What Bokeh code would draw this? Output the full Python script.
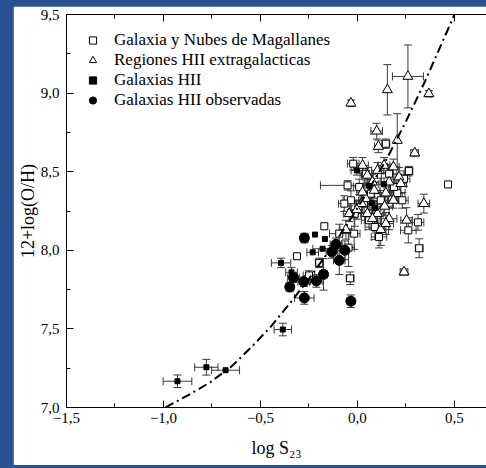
from bokeh.plotting import figure
from bokeh.models import (ColumnDataSource, Whisker, TeeHead, LinearAxis, SingleIntervalTicker,
                          CustomJSTickFormatter, Legend, LegendItem, Range1d)
from bokeh.embed import file_html
from bokeh.resources import INLINE

# ---------------- data ----------------
# Galaxia y Nubes de Magallanes (open squares)
gal_x = [0.467, 0.265, 0.312, 0.318, 0.262, -0.038, -0.171, -0.312, -0.197, -0.046, -0.051, -0.022,
         0.146, 0.240, 0.205, 0.231, -0.034, -0.014, 0.009, 0.034, 0.060, 0.089, 0.120, 0.163,
         0.043, 0.068, 0.188, -0.017, -0.068, -0.094, 0.111, -0.250]
gal_y = [8.419, 8.504, 8.178, 8.013, 8.127, 7.822, 8.153, 7.962, 7.920, 8.017, 8.413, 8.551,
         8.678, 8.455, 8.364, 8.318, 8.318, 8.233, 8.403, 8.297, 8.191, 8.148, 8.318, 8.487,
         8.487, 8.360, 8.403, 8.106, 8.297, 8.106, 8.085, 7.840]
gal_xerr = [0.0, 0.02, 0.03, 0.02, 0.04, 0.02, 0.0, 0.0, 0.02, 0.03, 0.14, 0.03,
            0.02, 0.03, 0.04, 0.03, 0.04, 0.03, 0.03, 0.04, 0.04, 0.05, 0.04, 0.04,
            0.03, 0.05, 0.03, 0.03, 0.03, 0.05, 0.04, 0.03]
gal_yerr = [0.0, 0.03, 0.05, 0.06, 0.08, 0.04, 0.0, 0.0, 0.03, 0.12, 0.03, 0.04,
            0.03, 0.05, 0.06, 0.05, 0.06, 0.08, 0.05, 0.06, 0.06, 0.08, 0.05, 0.06,
            0.04, 0.07, 0.05, 0.10, 0.05, 0.06, 0.07, 0.03]

# Regiones HII extragalacticas (open triangles)
reg_x = [0.260, 0.154, -0.034, 0.368, 0.099, 0.205, 0.295, 0.108, 0.342, 0.240, 0.253, 0.120,
         -0.060, -0.043, 0.026, 0.051, 0.077, 0.103, 0.137, 0.185, 0.214, 0.163, 0.146, 0.086,
         0.043, 0.021, -0.003, 0.051, 0.103, 0.140, 0.163, 0.077, 0.026, 0.185, 0.223, 0.146]
reg_y = [9.106, 9.021, 8.936, 8.996, 8.758, 8.699, 8.619, 8.661, 8.297, 7.862, 8.191, 8.131,
         8.131, 8.233, 8.540, 8.477, 8.434, 8.508, 8.540, 8.530, 8.466, 8.434, 8.364, 8.381,
         8.328, 8.297, 8.258, 8.233, 8.233, 8.280, 8.201, 8.201, 8.370, 8.318, 8.424, 8.170]
reg_xerr = [0.08, 0.0, 0.01, 0.01, 0.03, 0.0, 0.02, 0.02, 0.03, 0.02, 0.03, 0.04,
            0.03, 0.03, 0.03, 0.03, 0.04, 0.03, 0.03, 0.03, 0.03, 0.04, 0.03, 0.03,
            0.03, 0.03, 0.03, 0.03, 0.03, 0.04, 0.04, 0.04, 0.03, 0.03, 0.03, 0.04]
reg_yerr = [0.20, 0.16, 0.02, 0.02, 0.05, 0.17, 0.02, 0.04, 0.06, 0.02, 0.08, 0.10,
            0.06, 0.05, 0.05, 0.05, 0.05, 0.05, 0.05, 0.05, 0.06, 0.06, 0.06, 0.05,
            0.05, 0.06, 0.06, 0.06, 0.06, 0.06, 0.07, 0.06, 0.05, 0.05, 0.06, 0.07]

# Galaxias HII (small filled squares)
ghii_x = [-0.928, -0.779, -0.680, -0.385, -0.394, -0.219, -0.231, -0.168, -0.180, -0.003,
          0.060, 0.074, 0.137, -0.340, 0.090]
ghii_y = [7.167, 7.256, 7.237, 7.496, 7.920, 8.100, 7.987, 8.072, 8.010, 8.508,
          8.410, 8.300, 8.420, 7.860, 8.270]
ghii_xerr = [0.074, 0.060, 0.072, 0.045, 0.050, 0.0, 0.03, 0.0, 0.05, 0.03,
             0.03, 0.03, 0.03, 0.03, 0.03]
ghii_yerr = [0.04, 0.05, 0.0, 0.04, 0.03, 0.0, 0.0, 0.0, 0.0, 0.03,
             0.04, 0.04, 0.04, 0.03, 0.04]

# Galaxias HII observadas (large filled circles)
obs_x = [-0.274, -0.349, -0.330, -0.277, -0.274, -0.212, -0.175, -0.132, -0.111, -0.094, -0.065, -0.034]
obs_y = [8.078, 7.767, 7.826, 7.800, 7.697, 7.805, 7.847, 7.990, 8.038, 7.936, 8.000, 7.676]
obs_xerr = [0.02, 0.02, 0.03, 0.03, 0.05, 0.03, 0.02, 0.03, 0.03, 0.03, 0.02, 0.02]
obs_yerr = [0.03, 0.03, 0.03, 0.03, 0.04, 0.04, 0.10, 0.04, 0.04, 0.09, 0.06, 0.04]

# calibration curve (dash-dot)
fit_x = [-0.99, -0.87, -0.76, -0.65, -0.55, -0.45, -0.35, -0.25, -0.15, -0.05,
         0.05, 0.15, 0.25, 0.35, 0.45, 0.50]
fit_y = [7.00, 7.08, 7.16, 7.26, 7.38, 7.51, 7.66, 7.82, 7.99, 8.17,
         8.37, 8.58, 8.82, 9.08, 9.36, 9.50]

labels = ["Galaxia y Nubes de Magallanes", "Regiones HII extragalacticas",
          "Galaxias HII", "Galaxias HII observadas"]

FONT = "Liberation Serif"
BAR = "#3a3a3a"

p = figure(frame_width=420, frame_height=393,
           x_range=Range1d(-1.5, 0.665), y_range=Range1d(7.0, 9.5),
           output_backend="svg", toolbar_location=None,
           min_border_left=53, min_border_right=0, min_border_top=8, min_border_bottom=58,
           border_fill_color="white", background_fill_color="white")
p.grid.visible = False
p.outline_line_color = None
p.margin = (6, 0, 0, 13)

fmt = CustomJSTickFormatter(code="""
if (Math.abs(tick) < 1e-9) { return "0,0"; }
var s = Math.abs(tick).toFixed(1).replace('.', ',');
return tick < 0 ? "\u2212" + s : s;
""")


def style_axis(ax):
    ax.ticker = SingleIntervalTicker(interval=0.5, num_minor_ticks=2)
    ax.formatter = fmt
    ax.major_tick_in = 7
    ax.major_tick_out = 0
    ax.minor_tick_in = 4
    ax.minor_tick_out = 0
    ax.axis_line_color = "black"
    ax.major_tick_line_color = "black"
    ax.minor_tick_line_color = "black"
    ax.major_label_text_font = FONT
    ax.major_label_text_font_size = "15px"
    ax.major_label_text_color = "black"
    ax.axis_label_text_font = FONT
    ax.axis_label_text_font_style = "normal"
    ax.axis_label_text_font_size = "18px"
    ax.axis_label_text_color = "black"


xa = p.xaxis[0]
ya = p.yaxis[0]
style_axis(xa)
style_axis(ya)
xa.axis_label = "log S₂₃"
xa.major_label_standoff = 5
xa.axis_label_standoff = 12
ya.axis_label = "12+log(O/H)"
ya.major_label_standoff = 7
ya.axis_label_standoff = 0

top = LinearAxis()
style_axis(top)
top.formatter = CustomJSTickFormatter(code="return '';")
top.major_label_text_font_size = "1px"
top.major_label_text_alpha = 0
top.major_label_standoff = 0
top.axis_label_standoff = 0
p.add_layout(top, "above")


def add_errors(xs, ys, xe, ye):
    bx = [(x, y, x - e, x + e) for x, y, e in zip(xs, ys, xe) if e > 0]
    by = [(x, y, y - e, y + e) for x, y, e in zip(xs, ys, ye) if e > 0]
    if bx:
        s = ColumnDataSource(dict(base=[b[1] for b in bx], lo=[b[2] for b in bx], hi=[b[3] for b in bx]))
        w = Whisker(source=s, base="base", lower="lo", upper="hi", dimension="width",
                    line_color=BAR, line_width=1,
                    upper_head=TeeHead(size=8, line_color=BAR, line_width=1),
                    lower_head=TeeHead(size=8, line_color=BAR, line_width=1))
        w.level = "underlay"
        p.add_layout(w)
    if by:
        s = ColumnDataSource(dict(base=[b[0] for b in by], lo=[b[2] for b in by], hi=[b[3] for b in by]))
        w = Whisker(source=s, base="base", lower="lo", upper="hi", dimension="height",
                    line_color=BAR, line_width=1,
                    upper_head=TeeHead(size=8, line_color=BAR, line_width=1),
                    lower_head=TeeHead(size=8, line_color=BAR, line_width=1))
        w.level = "underlay"
        p.add_layout(w)


add_errors(gal_x, gal_y, gal_xerr, gal_yerr)
add_errors(reg_x, reg_y, reg_xerr, reg_yerr)
add_errors(ghii_x, ghii_y, ghii_xerr, ghii_yerr)
add_errors(obs_x, obs_y, obs_xerr, obs_yerr)

r_gal = p.scatter(gal_x, gal_y, marker="square", size=7, fill_color="white",
                  line_color="black", line_width=1)
r_reg = p.scatter(reg_x, reg_y, marker="triangle", size=10, fill_color="white",
                  line_color="black", line_width=1)
r_fit = p.line(fit_x, fit_y, line_color="black", line_width=2, line_dash="9 4 2 4")
r_ghii = p.scatter(ghii_x, ghii_y, marker="square", size=5, fill_color="black",
                   line_color="black")
r_obs = p.scatter(obs_x, obs_y, marker="circle", size=10, fill_color="black",
                  line_color="black")

legend = Legend(items=[LegendItem(label=labels[0], renderers=[r_gal]),
                       LegendItem(label=labels[1], renderers=[r_reg]),
                       LegendItem(label=labels[2], renderers=[r_ghii]),
                       LegendItem(label=labels[3], renderers=[r_obs])],
                location="top_left", margin=16, padding=6, glyph_width=21, glyph_height=18,
                label_height=18, spacing=0, label_standoff=11,
                border_line_color=None, background_fill_alpha=0,
                label_text_font=FONT, label_text_font_size="17px", label_text_color="black")
p.add_layout(legend)

html = file_html(p, INLINE)
html = html.replace("<head>", "<head><style>html,body{margin:0;padding:0;background:#2a5291;overflow:hidden;}</style>", 1)
open("out.html", "w").write(html)
